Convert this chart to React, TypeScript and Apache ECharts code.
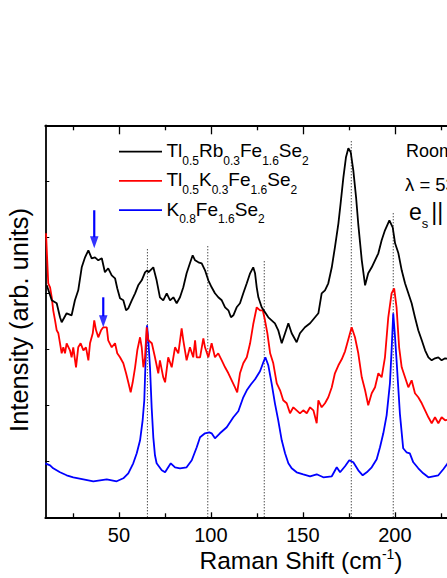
import React, { useEffect, useRef } from 'react';
import * as echarts from 'echarts';

const FONT = '"Liberation Sans", Arial, Helvetica, sans-serif';

// Axis ticks (Raman shift, cm^-1)
const xMajorTicks = [50, 100, 150, 200, 250, 300];
const xMinorTicks = [25, 75, 125, 175, 225, 275];
// Intensity axis (arbitrary units) tick spacing
const yMax = 392;
const yTickStep = 56;

// Spectra: [Raman shift (cm^-1), intensity (arb. units)]
const spectrumTlRb: number[][] = [
  [10.8, 232], [13.5, 217], [16.2, 214], [18.0, 200], [18.9, 195], [21.6, 204], [24.3, 202], [26.1, 217],
  [27.9, 227], [29.8, 250], [31.6, 260], [33.4, 267], [35.2, 259], [37.0, 260], [38.8, 257], [40.7, 259],
  [42.4, 245], [44.2, 249], [46.1, 242], [47.9, 239], [49.1, 229], [50.6, 219], [52.4, 217], [53.9, 207],
  [55.1, 209], [57.0, 217], [58.8, 224], [60.5, 232], [62.4, 237], [64.2, 245], [65.4, 247], [66.0, 245],
  [68.7, 250], [70.5, 237], [72.3, 220], [74.1, 217], [76.0, 224], [77.8, 217], [79.6, 220], [81.4, 214],
  [83.2, 220], [85.0, 230], [86.8, 244], [88.6, 254], [90.1, 262], [91.4, 257], [93.2, 255], [95.0, 254],
  [96.8, 247], [98.6, 237], [100.4, 230], [102.2, 224], [104.0, 220], [105.9, 217], [107.7, 210], [109.5, 207],
  [110.9, 200], [112.2, 202], [114.0, 210], [115.8, 214], [117.6, 224], [119.5, 234], [121.3, 244], [123.0, 250],
  [124.0, 244], [124.9, 230], [125.8, 220], [127.6, 210], [129.4, 205], [131.2, 200], [133.0, 197], [134.8, 194],
  [136.6, 187], [138.5, 174], [140.3, 184], [142.1, 194], [143.9, 184], [146.6, 175], [148.4, 184], [151.1, 190],
  [153.9, 194], [156.6, 200], [158.4, 204], [160.2, 224], [162.0, 227], [163.8, 234], [165.7, 250], [167.4, 270],
  [169.3, 294], [170.5, 314], [172.0, 340], [173.4, 360], [174.7, 369], [176.0, 365], [177.4, 347], [178.9, 320],
  [180.1, 293], [182.0, 257], [183.8, 232], [185.5, 244], [187.4, 250], [189.2, 257], [191.0, 264], [192.8, 277],
  [194.6, 287], [197.0, 297], [198.8, 290], [200.1, 274], [201.9, 264], [203.7, 247], [205.5, 234], [207.3, 224],
  [209.1, 214], [210.9, 200], [212.7, 187], [214.6, 177], [216.4, 167], [218.2, 160], [220.0, 157], [221.8, 159],
  [223.6, 160], [225.4, 157], [227.3, 159], [230.0, 158],
];

const spectrumTlK: number[][] = [
  [10.4, 284], [10.8, 267], [11.6, 234], [12.6, 230], [13.5, 220], [14.3, 207], [15.3, 197], [16.2, 187],
  [17.1, 184], [18.0, 174], [18.9, 164], [19.8, 170], [20.7, 164], [21.6, 174], [23.4, 167], [24.3, 160],
  [25.2, 170], [26.7, 150], [27.9, 170], [29.2, 174], [30.7, 167], [32.1, 170], [33.4, 157], [34.3, 174],
  [35.8, 184], [36.6, 197], [37.6, 187], [38.8, 180], [40.3, 187], [41.5, 190], [43.4, 190], [44.2, 177],
  [46.1, 170], [47.9, 174], [49.1, 164], [50.6, 160], [52.4, 154], [53.9, 144], [55.1, 135], [56.4, 125],
  [57.5, 135], [58.8, 150], [60.0, 167], [61.5, 180], [62.4, 170], [63.3, 150], [64.2, 160], [65.1, 190],
  [66.0, 177], [67.9, 174], [69.6, 160], [71.4, 144], [72.3, 157], [74.1, 140], [75.1, 135], [76.8, 160],
  [78.7, 150], [80.5, 170], [82.3, 164], [84.1, 189], [85.0, 177], [86.8, 157], [88.6, 170], [90.4, 160],
  [91.4, 177], [92.3, 160], [94.1, 160], [95.9, 179], [96.8, 170], [98.6, 160], [100.4, 174], [102.2, 160],
  [104.0, 164], [105.9, 157], [107.7, 150], [109.5, 144], [111.3, 137], [113.1, 130], [114.3, 125], [115.8, 144],
  [117.6, 154], [119.5, 160], [121.3, 174], [123.0, 193], [124.9, 210], [126.7, 207], [128.2, 207], [129.4, 197],
  [130.7, 184], [132.2, 164], [133.9, 154], [135.8, 134], [137.6, 127], [139.3, 117], [141.2, 114], [143.0, 104],
  [144.8, 110], [146.6, 107], [148.4, 104], [150.2, 107], [152.1, 104], [153.9, 110], [155.7, 107], [157.5, 94],
  [158.4, 117], [160.2, 110], [162.0, 114], [163.8, 120], [165.7, 130], [167.4, 144], [169.3, 152], [171.1, 158],
  [172.9, 166], [174.7, 178], [176.5, 190], [178.3, 180], [180.1, 164], [182.0, 140], [183.8, 127], [185.5, 112],
  [187.4, 124], [189.2, 130], [191.0, 144], [192.8, 140], [194.6, 160], [196.4, 200], [198.2, 224], [199.6, 229],
  [200.9, 210], [202.3, 170], [203.7, 150], [205.5, 140], [207.3, 130], [209.1, 137], [210.9, 124], [212.7, 120],
  [214.6, 114], [216.4, 107], [218.2, 100], [220.0, 94], [221.8, 100], [223.6, 94], [225.4, 100], [227.3, 97],
  [230.0, 98],
];

const spectrumK: number[][] = [
  [10.0, 54], [12.6, 52], [14.3, 49], [18.0, 45], [21.6, 42], [25.2, 40], [30.7, 38], [36.1, 36],
  [43.4, 38], [48.8, 36], [52.4, 39], [55.1, 44], [57.8, 54], [59.7, 64], [61.5, 77], [62.9, 97],
  [63.8, 117], [64.5, 157], [65.3, 192], [66.0, 177], [66.9, 150], [67.8, 110], [68.7, 80], [69.6, 62],
  [70.5, 54], [73.3, 47], [75.1, 45], [76.8, 50], [78.2, 54], [80.5, 50], [83.2, 49], [86.8, 50],
  [89.6, 57], [92.3, 70], [94.1, 80], [96.8, 84], [99.1, 85], [100.4, 84], [102.2, 79], [104.9, 84],
  [108.6, 90], [112.2, 100], [114.9, 106], [117.6, 120], [119.5, 127], [121.8, 133], [124.0, 138], [126.7, 146],
  [128.5, 155], [129.6, 160], [131.2, 152], [133.0, 134], [134.8, 114], [136.6, 97], [138.5, 77], [140.3, 64],
  [142.1, 54], [143.9, 49], [146.6, 45], [150.2, 43], [153.9, 41], [157.5, 43], [161.1, 40], [165.7, 41],
  [168.4, 50], [170.2, 45], [172.9, 51], [175.2, 57], [177.4, 55], [180.1, 47], [182.5, 42], [184.7, 45],
  [187.4, 50], [190.1, 58], [191.9, 70], [193.7, 84], [195.5, 102], [197.3, 134], [198.2, 167], [199.1, 204],
  [200.0, 182], [200.9, 157], [202.7, 104], [204.5, 69], [206.3, 65], [208.1, 64], [210.0, 55], [212.7, 49],
  [215.4, 44], [218.2, 40], [220.9, 41], [223.6, 42], [226.3, 48], [228.3, 53], [230.0, 58],
];

// Dotted guide lines at phonon positions
const peakShifts = [65.5, 98.3, 129.0, 176.3, 199.1];
const peakLineTops = [268, 271, 258, 376, 305];

// Blue arrows
const arrowShifts = [36.6, 41.5];
const arrowTails = [307, 220];
const arrowTips = [269, 190];

const legendLabels = [
  '{m|Tl}{s|0.5}{m|Rb}{s|0.3}{m|Fe}{s|1.6}{m|Se}{s|2}',
  '{m|Tl}{s|0.5}{m|K}{s|0.3}{m|Fe}{s|1.6}{m|Se}{s|2}',
  '{m|K}{s|0.8}{m|Fe}{s|1.6}{m|Se}{s|2}',
];
const seriesColors = ['#000000', '#ff0000', '#0000ff'];
const seriesData = [spectrumTlRb, spectrumTlK, spectrumK];
const seriesNames = ['Tl0.5Rb0.3Fe1.6Se2', 'Tl0.5K0.3Fe1.6Se2', 'K0.8Fe1.6Se2'];

export default function App() {
  const ref = useRef<HTMLDivElement>(null);

  useEffect(() => {
    if (!ref.current) return;
    const chart = echarts.init(ref.current, null, { renderer: 'svg' });
    const ARROW_HEAD = 12;

    const baseX = { type: 'value', min: 10, max: 300, gridIndex: 0, splitLine: { show: false } };

    const series: any[] = [];
    peakShifts.forEach((x, i) => {
      series.push({
        type: 'line',
        data: [[x, 0], [x, peakLineTops[i]]],
        showSymbol: false,
        symbol: 'none',
        silent: true,
        z: 1,
        lineStyle: { color: '#000', width: 1, type: [1, 2] },
      });
    });
    [2, 1, 0].forEach((k) => {
      series.push({
        type: 'line',
        name: seriesNames[k],
        data: seriesData[k],
        showSymbol: false,
        symbol: 'none',
        z: 3,
        lineStyle: { color: seriesColors[k], width: 1.8 },
        itemStyle: { color: seriesColors[k] },
      });
    });
    arrowShifts.forEach((x, i) => {
      series.push({
        type: 'line',
        data: [[x, arrowTails[i]], [x, arrowTips[i] + ARROW_HEAD - 1]],
        showSymbol: false,
        symbol: 'none',
        z: 4,
        lineStyle: { color: '#0000ff', width: 2.2 },
      });
      series.push({
        type: 'scatter',
        data: [[x, arrowTips[i] + ARROW_HEAD / 2]],
        symbol: 'triangle',
        symbolRotate: 180,
        symbolSize: [8.5, ARROW_HEAD],
        z: 4,
        itemStyle: { color: '#0000ff' },
      });
    });

    const graphic: any[] = [];
    seriesColors.forEach((c, i) => {
      const y = 151.7 + i * 29.2;
      graphic.push({
        type: 'line',
        shape: { x1: 119, y1: y, x2: 162, y2: y },
        style: { stroke: c, lineWidth: 1.8 },
      });
      graphic.push({
        type: 'text',
        x: 166.5,
        y: y - 1,
        style: {
          text: legendLabels[i],
          fill: '#000',
          fontSize: 19,
          fontFamily: FONT,
          align: 'left',
          verticalAlign: 'middle',
          rich: {
            m: { fontSize: 19, lineHeight: 20, fontFamily: FONT, fill: '#000' },
            s: { fontSize: 12, lineHeight: 12, fontFamily: FONT, fill: '#000', padding: [20, 0, 0, 0] },
          },
        },
      });
    });
    graphic.push({
      type: 'text',
      x: 406,
      y: 151,
      style: { text: 'Room temperature', fill: '#000', fontSize: 18, fontFamily: FONT, align: 'left', verticalAlign: 'middle' },
    });
    graphic.push({
      type: 'text',
      x: 405,
      y: 184,
      style: { text: 'λ = 532 nm', fill: '#000', fontSize: 18.5, fontFamily: FONT, align: 'left', verticalAlign: 'middle' },
    });
    graphic.push({
      type: 'text',
      x: 409,
      y: 212,
      style: {
        text: '{m|e}{s|s}{b|||}{m| e}{s|i}',
        fill: '#000',
        fontSize: 23,
        fontFamily: FONT,
        align: 'left',
        verticalAlign: 'middle',
        rich: {
          m: { fontSize: 23, lineHeight: 24, fontFamily: FONT, fill: '#000' },
          b: { fontSize: 23, lineHeight: 24, fontFamily: FONT, fill: '#000', padding: [0, 0, 0, 3] },
          s: { fontSize: 13, lineHeight: 13, fontFamily: FONT, fill: '#000', padding: [23, 0, 0, 0] },
        },
      },
    });
    graphic.push({
      type: 'text',
      x: 301,
      y: 560,
      style: {
        text: '{m|Raman Shift (cm}{p|-1}{m|)}',
        fill: '#000',
        fontSize: 24.5,
        fontFamily: FONT,
        align: 'center',
        verticalAlign: 'middle',
        rich: {
          m: { fontSize: 24.5, lineHeight: 25, fontFamily: FONT, fill: '#000' },
          p: { fontSize: 14, lineHeight: 14, fontFamily: FONT, fill: '#000', padding: [0, 0, 12, 0] },
        },
      },
    });
    graphic.push({
      type: 'text',
      x: 18.5,
      y: 320,
      rotation: Math.PI / 2,
      style: {
        text: 'Intensity (arb. units)',
        fill: '#000',
        fontSize: 25.5,
        fontFamily: FONT,
        align: 'center',
        verticalAlign: 'middle',
      },
    });

    const option: any = {
      animation: false,
      backgroundColor: '#ffffff',
      grid: { left: 45.3, top: 125.3, right: 61.1, bottom: 60.7, containLabel: false },
      xAxis: [
        {
          ...baseX,
          position: 'bottom',
          axisLine: { show: true, lineStyle: { color: '#000', width: 1.8 } },
          axisTick: { show: true, inside: true, length: 5, customValues: xMajorTicks, lineStyle: { color: '#000', width: 1.3 } },
          axisLabel: { show: true, customValues: xMajorTicks, fontSize: 20, color: '#000', fontFamily: FONT, margin: 8 },
        },
        {
          ...baseX,
          position: 'bottom',
          axisLine: { show: false },
          axisTick: { show: true, inside: true, length: 4, customValues: xMinorTicks, lineStyle: { color: '#000', width: 1.3 } },
          axisLabel: { show: false },
        },
        {
          ...baseX,
          position: 'top',
          axisLine: { show: true, lineStyle: { color: '#000', width: 1.8 } },
          axisTick: { show: true, inside: true, length: 9, customValues: xMajorTicks, lineStyle: { color: '#000', width: 1.3 } },
          axisLabel: { show: false },
        },
        {
          ...baseX,
          position: 'top',
          axisLine: { show: false },
          axisTick: { show: true, inside: true, length: 5, customValues: xMinorTicks, lineStyle: { color: '#000', width: 1.3 } },
          axisLabel: { show: false },
        },
      ],
      yAxis: {
        type: 'value',
        min: 0,
        max: yMax,
        interval: yTickStep,
        axisLine: { show: true, lineStyle: { color: '#000', width: 1.8 } },
        axisTick: { show: true, inside: true, length: 4, lineStyle: { color: '#000', width: 1 } },
        axisLabel: { show: false },
        splitLine: { show: false },
      },
      series,
      graphic,
    };

    chart.setOption(option);
    return () => chart.dispose();
  }, []);

  return (
    <div
      style={{
        position: 'fixed',
        left: 0,
        top: 0,
        width: 447,
        height: 578,
        overflow: 'hidden',
        background: '#ffffff',
      }}
    >
      <div ref={ref} style={{ width: 640, height: 578 }} />
    </div>
  );
}
